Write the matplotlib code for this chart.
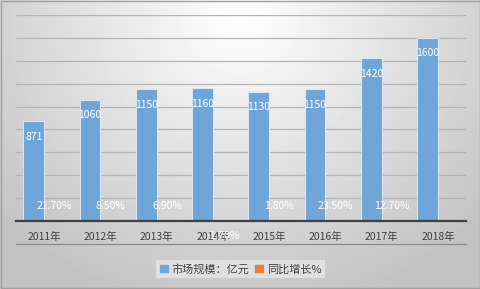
import numpy as np
import matplotlib
matplotlib.use('Agg')
import matplotlib.pyplot as plt
from matplotlib.patches import Patch
from matplotlib.lines import Line2D

plt.rcParams['font.family'] = ['Noto Sans CJK SC', 'DejaVu Sans']

years = ['2011年', '2012年', '2013年', '2014年', '2015年', '2016年', '2017年', '2018年']
market = [871, 1060, 1150, 1160, 1130, 1150, 1420, 1600]
growth = [0.217, 0.085, 0.069, -0.017, 0.018, 0.235, 0.127, np.nan]
growth_labels = ['21.70%', '8.50%', '6.90%', '-1.70%', '1.80%', '23.50%', '12.70%', '']

BLUE, ORANGE, TXT = '#6fa5d8', '#ed7d31', '#404040'
W, H = 481, 289

fig = plt.figure(figsize=(4.81, 2.89), dpi=100)

# radial grey background
bg = fig.add_axes([0, 0, 1, 1], zorder=-10)
yy, xx = np.mgrid[0:H, 0:W]
r = np.sqrt(((xx - 240) / 330) ** 2 + ((yy - 20) / 300) ** 2)
shade = np.clip(1.0 - 0.24 * r, 0.76, 1.0)
bg.imshow(shade, cmap='gray', vmin=0, vmax=1, aspect='auto', extent=[0, W, H, 0])
bg.set_xlim(0, W); bg.set_ylim(H, 0); bg.axis('off')
bg.add_patch(plt.Rectangle((0.5, 0.5), W - 1.5, H - 1.5, fill=False, ec='#a0a0a0', lw=1))

ax = fig.add_axes([16 / W, (H - 221) / H, 450 / W, (221 - 15) / H])
ax.patch.set_alpha(0)
x = np.arange(len(years))
bw = 0.367
b1 = ax.bar(x - bw / 2, market, bw, color=BLUE, edgecolor='#d6e6f5', lw=0.8, zorder=3)
b2 = ax.bar(x + bw / 2, np.nan_to_num(growth), bw, color=ORANGE, zorder=3)

for xi, v in zip(x, market):
    ax.annotate(str(v), (xi - bw / 2, v), xytext=(0, -11), textcoords='offset points',
                ha='center', va='center', color='white', fontsize=7.5, zorder=5)
for xi, v, lab in zip(x, growth, growth_labels):
    if not lab:
        continue
    off = 10.5 if v > 0 else -10.5
    ax.annotate(lab, (xi + bw / 2, 0), xytext=(0, off), textcoords='offset points',
                ha='center', va='center', color='white', fontsize=7.5, zorder=5)

ax.set_xlim(-0.5, len(years) - 0.5)
ax.set_ylim(0, 1800)
ax.set_yticks(np.arange(0, 1801, 200))
ax.yaxis.grid(True, color='#b4b4b4', lw=0.9, zorder=0)
ax.tick_params(axis='y', left=False, labelleft=False)
ax.set_xticks(x)
ax.set_xticklabels(years, fontsize=7.5, color=TXT)
ax.tick_params(axis='x', length=0, pad=8)
for s in ['top', 'right', 'left']:
    ax.spines[s].set_visible(False)
ax.spines['bottom'].set_color('#404040')
ax.spines['bottom'].set_linewidth(1.6)
ax.spines['bottom'].set_zorder(4)

fig.add_artist(Line2D([16 / W, 466 / W], [(H - 243.5) / H] * 2, color='#8c8c8c', lw=0.9))

handles = [Patch(color=BLUE, label='市场规模：亿元'), Patch(color=ORANGE, label='同比增长%')]
leg = fig.legend(handles=handles, loc='center', bbox_to_anchor=(240.5 / W, (H - 269) / H),
                 ncol=2, frameon=True, fontsize=8, handlelength=0.7, handleheight=0.7,
                 handletextpad=0.3, columnspacing=0.6, borderpad=0.35, fancybox=False)
leg.get_frame().set_facecolor('#e6e6e6')
leg.get_frame().set_edgecolor('none')
for t in leg.get_texts():
    t.set_color(TXT)

fig.savefig('out.png', dpi=100)
